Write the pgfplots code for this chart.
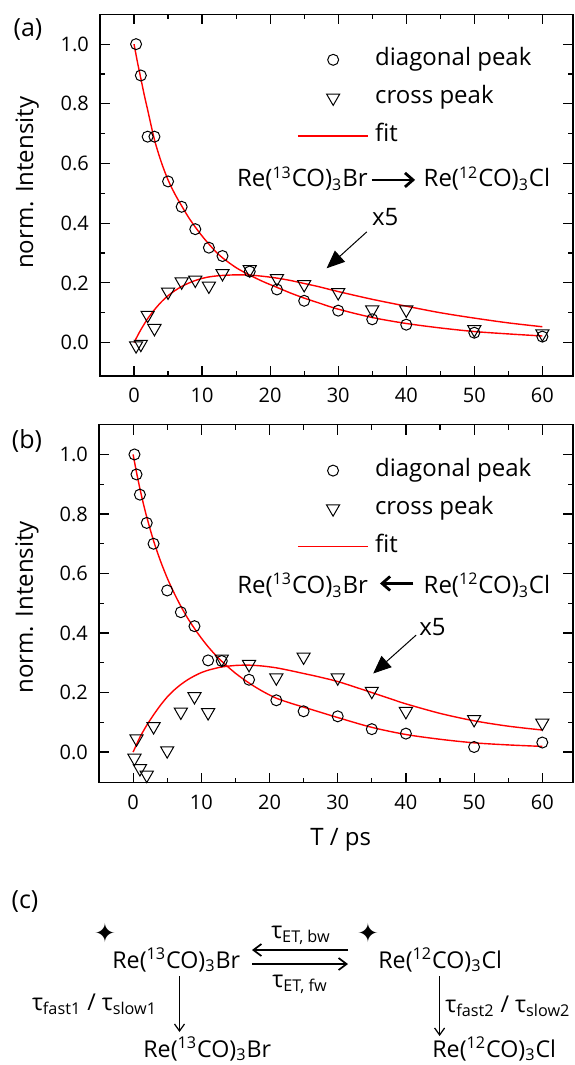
\documentclass[border=0pt]{standalone}
\usepackage{fontspec}
\setmainfont{Open Sans}
\newfontfamily\symfont{DejaVu Sans}
\usepackage{pgfplots}
\pgfplotsset{compat=1.18}
\usetikzlibrary{arrows.meta}
\newcommand{\fs}[1]{\fontsize{#1}{#1}\selectfont}
\newcommand{\ReBr}{Re(\textsuperscript{13}CO)\textsubscript{3}Br}
\newcommand{\ReCl}{Re(\textsuperscript{12}CO)\textsubscript{3}Cl}

\pgfplotsset{
  myaxis/.style={
    scale only axis, clip=false,
    xmin=-5, xmax=64.5,
    xtick={0,10,20,30,40,50,60}, minor xtick={5,15,25,35,45,55},
    ytick={0,0.2,0.4,0.6,0.8,1.0}, minor ytick={0.1,0.3,0.5,0.7,0.9},
    tick align=inside, major tick length=5pt, minor tick length=2.5pt,
    every tick/.style={black, line width=0.6pt},
    axis line style={line width=0.7pt},
    tick label style={font=\fs{10}},
    /pgf/number format/assume math mode=true,
    y tick label style={/pgf/number format/.cd, fixed, fixed zerofill, precision=1, /tikz/.cd, xshift=-2pt},
    x tick label style={yshift=-2.5pt},
    ylabel={norm. Intensity},
    every axis y label/.style={rotate=90, anchor=center, font=\fs{12}},
    every axis x label/.style={anchor=center, font=\fs{12}},
    legend style={draw=none, fill=none, font=\fs{12}, row sep=5pt, inner sep=0pt,
      nodes={inner sep=1pt, text height=9pt, text depth=3pt}, column sep=2pt},
    legend cell align=left,
    legend image code/.code={\draw[mark repeat=2,mark phase=2,#1] plot coordinates {(0pt,0pt) (17.65pt,0pt) (35.3pt,0pt)};},
  },
  circ/.style={only marks, mark=o, mark size=2.75pt, mark options={line width=0.5pt, black}},
  tri/.style={only marks, mark=triangle, mark size=3.8pt, mark options={rotate=180, line width=0.5pt, black}},
  fitline/.style={red, line width=0.7pt, smooth, no marks},
}

\begin{document}
\begin{tikzpicture}

% ---------------- panel (a)
\begin{axis}[myaxis, at={(50pt,-188pt)}, anchor=south west,
  width=236.5pt, height=180.85pt, ymin=-0.112, ymax=1.1,
  ylabel style={at={(axis description cs:-0.154,0.534)}},
  legend style={at={(axis description cs:0.416,0.914)}, anchor=north west}]
\addplot[circ] coordinates {(0.3,1.0) (1,0.895) (2,0.69) (3,0.69) (5,0.54) (7,0.455) (9,0.38) (11,0.318) (13,0.29) (17,0.238) (21,0.178) (25,0.14) (30,0.107) (35,0.078) (40,0.06) (50,0.033) (60,0.02)};
\addlegendentry{diagonal peak}
\addplot[tri] coordinates {(0.3,-0.01) (1,-0.005) (2,0.092) (3,0.048) (5,0.17) (7,0.204) (9,0.21) (11,0.19) (13,0.232) (17,0.245) (21,0.215) (25,0.195) (30,0.168) (35,0.11) (40,0.11) (50,0.044) (60,0.03)};
\addlegendentry{cross peak}
\addplot[fitline] coordinates {(0,1.0) (0.5,0.94) (1,0.885) (1.5,0.83) (2,0.78) (3,0.68) (4,0.605) (5,0.545) (6,0.498) (7,0.458) (8,0.42) (9,0.387) (10,0.357) (11,0.33) (12,0.305) (13,0.284) (15,0.251) (17,0.226) (19,0.204) (21,0.185) (23,0.166) (25,0.149) (27,0.134) (30,0.112) (35,0.084) (40,0.064) (45,0.049) (50,0.037) (55,0.029) (60,0.022)};
\addlegendentry{fit}
\addplot[fitline, forget plot] coordinates {(0,0) (0.5,0.022) (1,0.043) (2,0.08) (3,0.11) (4,0.136) (5,0.157) (6,0.174) (7,0.188) (8,0.199) (9,0.208) (10,0.215) (11,0.22) (12,0.223) (13,0.225) (15,0.227) (17,0.226) (19,0.222) (21,0.216) (23,0.208) (25,0.198) (27,0.188) (30,0.171) (35,0.145) (40,0.122) (45,0.1) (50,0.082) (55,0.066) (60,0.053)};
\node[anchor=base east, inner sep=0pt, font=\fs{12}] at (axis cs:34.4,0.522) {\ReBr};
\draw[line width=1.4pt, -{Straight Barb[length=4pt,width=7pt]}] (axis cs:34.9,0.545) -- (axis cs:41.3,0.545);
\node[anchor=base west, inner sep=0pt, font=\fs{12}] at (axis cs:42.5,0.522) {\ReCl};
\node[inner sep=0pt, font=\fs{12}] at (axis cs:36.9,0.4216) {x5};
\draw[line width=0.5pt, -{Triangle[length=9pt,width=7.5pt]}] (axis cs:34.2,0.371) -- (axis cs:28.3,0.249);
\end{axis}

% ---------------- panel (b)
\begin{axis}[myaxis, at={(49.5pt,-391.35pt)}, anchor=south west,
  width=237pt, height=179pt, ymin=-0.103, ymax=1.1,
  xlabel={T / ps},
  ylabel style={at={(axis description cs:-0.152,0.49)}},
  xlabel style={at={(axis description cs:0.51,-0.16)}},
  legend style={at={(axis description cs:0.417,0.912)}, anchor=north west}]
\addplot[circ] coordinates {(0.2,1.0) (0.5,0.933) (1,0.865) (2,0.77) (3,0.70) (5,0.543) (7,0.47) (9,0.423) (11,0.308) (13,0.306) (17,0.243) (21,0.174) (25,0.137) (30,0.12) (35,0.077) (40,0.062) (50,0.017) (60,0.032)};
\addlegendentry{diagonal peak}
\addplot[tri] coordinates {(0.2,-0.02) (0.5,0.045) (1,-0.055) (2,-0.077) (3,0.086) (5,0.005) (7,0.135) (9,0.187) (11,0.133) (13,0.313) (17,0.295) (21,0.25) (25,0.32) (30,0.25) (35,0.205) (40,0.137) (50,0.11) (60,0.098)};
\addlegendentry{cross peak}
\addplot[fitline] coordinates {(0,1.0) (0.5,0.94) (1,0.885) (1.5,0.835) (2,0.79) (3,0.71) (4,0.643) (5,0.585) (6,0.535) (7,0.49) (8,0.45) (9,0.415) (10,0.383) (11,0.354) (12,0.328) (13,0.305) (15,0.265) (17,0.232) (19,0.204) (21,0.181) (23,0.165) (25,0.151) (27,0.137) (30,0.116) (35,0.083) (40,0.059) (45,0.043) (50,0.031) (55,0.024) (60,0.019)};
\addlegendentry{fit}
\addplot[fitline, forget plot] coordinates {(0,0) (0.5,0.025) (1,0.05) (2,0.09) (3,0.125) (4,0.157) (5,0.185) (6,0.208) (7,0.227) (8,0.243) (9,0.256) (10,0.267) (11,0.275) (12,0.281) (13,0.286) (15,0.291) (17,0.292) (19,0.289) (21,0.283) (23,0.274) (25,0.264) (27,0.254) (30,0.237) (33,0.215) (35,0.2) (38,0.177) (40,0.162) (45,0.13) (50,0.105) (55,0.087) (60,0.074)};
\node[anchor=base east, inner sep=0pt, font=\fs{12}] at (axis cs:34.5,0.533) {\ReBr};
\draw[line width=1.4pt, -{Straight Barb[length=4pt,width=7pt]}] (axis cs:41.1,0.5665) -- (axis cs:36.2,0.5665);
\node[anchor=base west, inner sep=0pt, font=\fs{12}] at (axis cs:42.55,0.533) {\ReCl};
\node[inner sep=0pt, font=\fs{12}] at (axis cs:43.9,0.421) {x5};
\draw[line width=0.5pt, -{Triangle[length=9pt,width=7.5pt]}] (axis cs:41.5,0.393) -- (axis cs:35.2,0.264);
\end{axis}

% ---------------- panel labels
\node[font=\fs{12.5}, inner sep=0pt] at (14pt,-15pt) {(a)};
\node[font=\fs{12.5}, inner sep=0pt] at (13.5pt,-220.5pt) {(b)};

% ---------------- panel (c) scheme
\begin{scope}[x=0.5pt, y=-0.5pt, every node/.style={inner sep=0pt, font=\fs{11.6}}]
\node[font=\fs{12.5}] at (25,902) {(c)};
\node[font=\symfont\fs{13}] at (105,933) {✦};
\node[font=\symfont\fs{13}] at (368,933) {✦};
\node[anchor=base west] at (112,968) {\ReBr};
\node[anchor=base west] at (378,968) {\ReCl};
\draw[line width=0.85pt, -{Straight Barb[length=4pt,width=6pt]}] (348,950) -- (252,950);
\draw[line width=0.85pt, -{Straight Barb[length=4pt,width=6pt]}] (252,964) -- (348,964);
\node at (301,935) {τ\textsubscript{ET, bw}};
\node at (300,984) {τ\textsubscript{ET, fw}};
\draw[line width=0.6pt, -{Straight Barb[length=3.5pt,width=5pt]}] (179.5,976) -- (179.5,1032);
\draw[line width=0.6pt, -{Straight Barb[length=3.5pt,width=5pt]}] (439.6,976) -- (439.6,1036);
\node[anchor=east] at (157.5,1004) {τ\textsubscript{fast1} / τ\textsubscript{slow1}};
\node[anchor=west] at (445,1006) {τ\textsubscript{fast2} / τ\textsubscript{slow2}};
\node[anchor=base west] at (143,1057) {\ReBr};
\node[anchor=base west] at (432,1057) {\ReCl};
\end{scope}

\pgfresetboundingbox
\useasboundingbox (0pt,0pt) rectangle (287pt,-532.5pt);
\end{tikzpicture}
\end{document}
